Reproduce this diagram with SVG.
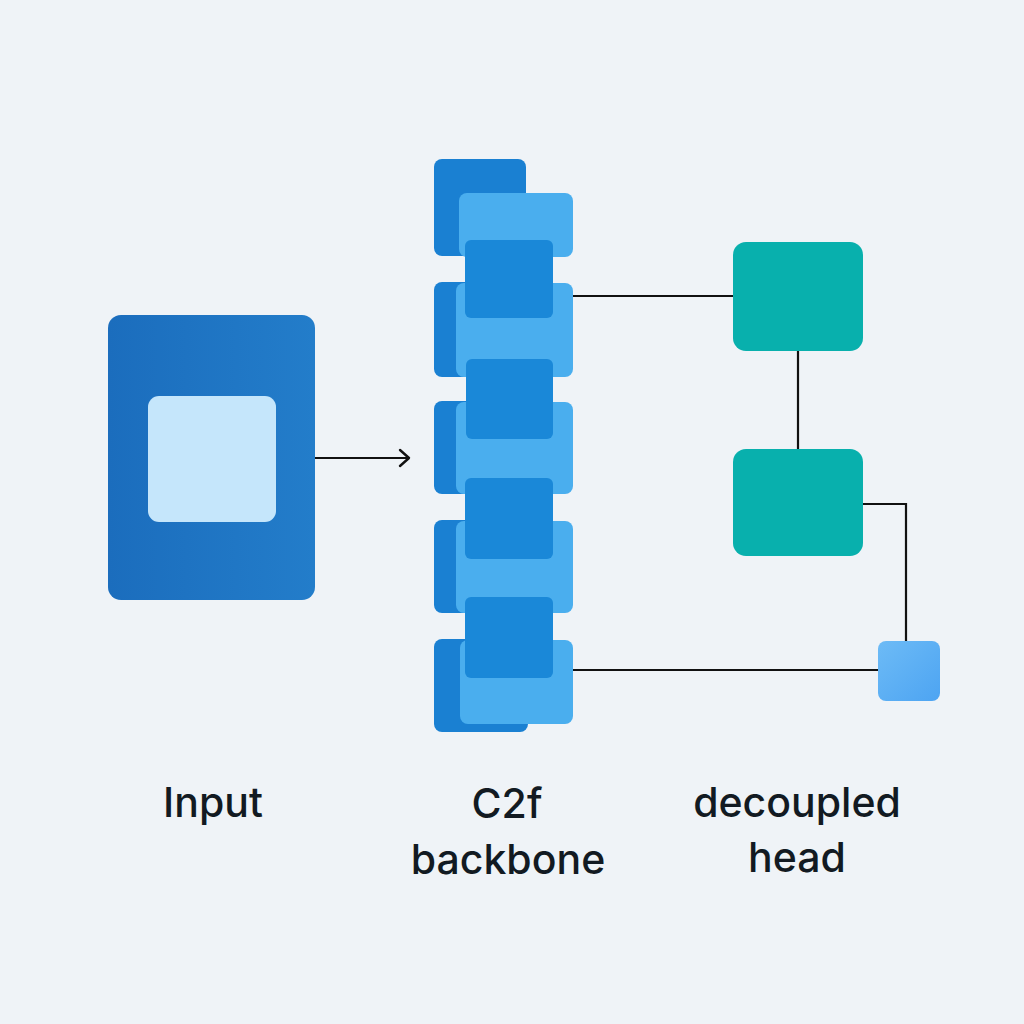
<svg xmlns="http://www.w3.org/2000/svg" width="1024" height="1024" viewBox="0 0 1024 1024">
<defs>
<style>
.lbl{font-family:Inter,"Noto Sans","Liberation Sans",sans-serif;font-size:41px;font-weight:500;fill:#121a22;text-anchor:middle}
.back{fill:#1a80d2}
.light{fill:#4aaeee}
.mid{fill:#1a88d8}
.teal{fill:#08b0ad}
.conn{stroke:#111;stroke-width:2.2;fill:none}
</style>
<linearGradient id="gIn" x1="0" y1="0" x2="1" y2="0"><stop offset="0" stop-color="#1b6dbd"/><stop offset="1" stop-color="#237dca"/></linearGradient>
<linearGradient id="gSm" x1="0" y1="0" x2="1" y2="1"><stop offset="0" stop-color="#6dbbf6"/><stop offset="1" stop-color="#4da4f2"/></linearGradient>
<marker id="arr" viewBox="0 0 14 20" refX="12" refY="10" markerWidth="14" markerHeight="20" markerUnits="userSpaceOnUse" orient="auto"><path d="M3,2 L12,10 L3,18" fill="none" stroke="#111" stroke-width="2.4" stroke-linecap="round" stroke-linejoin="round"/></marker>
</defs>
<rect width="1024" height="1024" fill="#eff3f7"/>
<g id="connectors">
<path class="conn" d="M315,458 H409" marker-end="url(#arr)"/>
<path class="conn" d="M573,296 H733"/>
<path class="conn" d="M798,351 V449"/>
<path class="conn" d="M863,504 H906 V641"/>
<path class="conn" d="M573,670 H878"/>
</g>
<g id="input">
<rect x="108" y="315" width="207" height="285" rx="13" fill="url(#gIn)"/>
<rect x="148" y="396" width="128" height="126" rx="11" fill="#c5e6fb"/>
</g>
<g id="backbone">
<rect class="back" x="434" y="159" width="92" height="97" rx="8"/>
<rect class="back" x="434" y="282" width="92" height="95" rx="8"/>
<rect class="back" x="434" y="401" width="92" height="93" rx="8"/>
<rect class="back" x="434" y="520" width="92" height="93" rx="8"/>
<rect class="back" x="434" y="639" width="94" height="93" rx="8"/>
<rect class="light" x="459" y="193" width="114" height="64" rx="8"/>
<rect class="light" x="456" y="283" width="117" height="94" rx="8"/>
<rect class="light" x="456" y="402" width="117" height="92" rx="8"/>
<rect class="light" x="456" y="521" width="117" height="92" rx="8"/>
<rect class="light" x="460" y="640" width="113" height="84" rx="8"/>
<rect class="mid" x="465" y="240" width="88" height="78" rx="6"/>
<rect class="mid" x="466" y="359" width="87" height="80" rx="6"/>
<rect class="mid" x="465" y="478" width="88" height="81" rx="6"/>
<rect class="mid" x="465" y="597" width="88" height="81" rx="6"/>
</g>
<g id="head1"><rect class="teal" x="733" y="242" width="130" height="109" rx="13"/></g>
<g id="head2"><rect class="teal" x="733" y="449" width="130" height="107" rx="13"/></g>
<g id="output"><rect x="878" y="641" width="62" height="60" rx="8" fill="url(#gSm)"/></g>
<g id="labels">
<text class="lbl" x="213" y="817">Input</text>
<text class="lbl" x="507" y="818">C2f</text>
<text class="lbl" x="508" y="874">backbone</text>
<text class="lbl" x="797" y="817">decoupled</text>
<text class="lbl" x="797" y="872">head</text>
</g>
</svg>
